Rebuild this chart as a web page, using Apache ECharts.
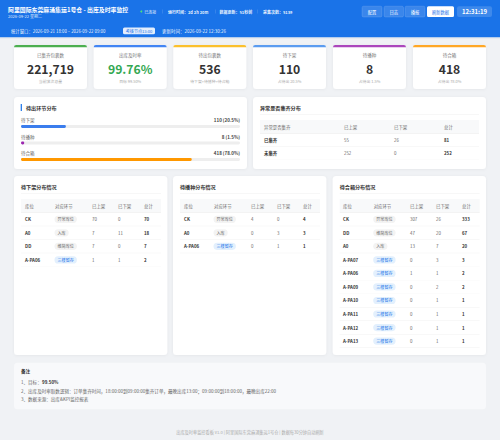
<!DOCTYPE html>
<html><head><meta charset="utf-8">
<style>html,body{margin:0;padding:0;background:#f0f2f5}#c{width:500px;height:440px}</style>
<script src="https://cdn.jsdelivr.net/npm/echarts@6/dist/echarts.min.js"></script>
</head><body><div id="c"></div>
<script>
const pageTitle = '阿里国际东莞麻涌集运1号仓 - 出库及时率监控';
const pageDate = '2026-09-22 星期二';
const statusItems = ['已连接', '运行时间：2d 2h 20m', '数据更新：51秒前', '采集次数：5139'];
const buttons = ['配置', '日志', '播报', '刷新数据'];
const clockText = '12:31:19';
const windowText = '统计窗口：2026-09-21 18:00 ~ 2026-09-22 09:00';
const nodeBadge = '考核节点13:00';
const updateText = '更新时间：2026-09-22 12:30:26';

const kpiTitles = ['已集齐包裹数', '出库及时率', '待出包裹数', '待下架', '待播种', '待合箱'];
const kpiValues = ['221,719', '99.76%', '536', '110', '8', '418'];
const kpiNotes = ['当前波次总量', '目标 99.50%', '待下架+待播种+待合箱', '占待出 20.5%', '占待出 1.5%', '占待出 78.0%'];

const stageNames = ['待下架', '待播种', '待合箱'];
const stageValues = [110, 8, 418];
const stageLabels = ['110 (20.5%)', '8 (1.5%)', '418 (78.0%)'];

const anomalyHeader = ['异常是否集齐', '已上架', '已下架', '总计'];
const anomalyRows = [['已集齐', 55, 26, 81], ['未集齐', 252, 0, 252]];

const tableHeader = ['库位', '对应环节', '已上架', '已下架', '总计'];
const tableTitles = ['待下架分布情况', '待播种分布情况', '待合箱分布情况'];
const tableA = [['CK', '异常库位', 70, 0, 70], ['A0', '入库', 7, 11, 18], ['DD', '维简库位', 7, 0, 7], ['A-PA06', '三楼暂存', 1, 1, 2]];
const tableB = [['CK', '异常库位', 4, 0, 4], ['A0', '入库', 0, 3, 3], ['A-PA06', '三楼暂存', 0, 1, 1]];
const tableC = [['CK', '异常库位', 307, 26, 333], ['DD', '维简库位', 47, 20, 67], ['A0', '入库', 13, 7, 20],
  ['A-PA07', '三楼暂存', 0, 3, 3], ['A-PA06', '三楼暂存', 1, 1, 2], ['A-PA09', '三楼暂存', 0, 2, 2],
  ['A-PA10', '三楼暂存', 0, 1, 1], ['A-PA11', '三楼暂存', 0, 1, 1], ['A-PA12', '三楼暂存', 0, 1, 1], ['A-PA13', '三楼暂存', 0, 1, 1]];

const noteTitle = '备注';
const noteLine1 = '1、目标：';
const noteTarget = '99.50%';
const noteLine2 = '2、出库及时率取数逻辑：订单集齐时间，18:00:00到09:00:00集齐订单，最晚出库13:00；09:00:00到18:00:00，最晚出库22:00';
const noteLine3 = '3、数据来源：出库&KPI监控报表';
const footerText = '出库及时率监控看板 v1.0 | 阿里国际东莞麻涌集运1号仓 | 数据每30分钟自动刷新';

const FONT = '"Noto Sans CJK SC","Noto Sans",sans-serif';
const TS = 10;
const g = [];
function rect(x, y, w, h, fill, r, extra) {
  g.push({type: 'rect', z: 1, silent: true, shape: {x, y, width: w, height: h, r: r || 0}, style: Object.assign({fill}, extra || {})});
}
function text(x, y, s, size, fill, opt) {
  opt = opt || {};
  g.push({type: 'text', z: 3, silent: true, x, y, scaleX: 1 / TS, scaleY: 1 / TS, style: {text: String(s), fontSize: size * TS, fontFamily: FONT,
    fontWeight: opt.bold ? 700 : 400, fill, textAlign: opt.align || 'left', textVerticalAlign: 'middle'}});
}
function panel(x, y, w, h) {
  rect(x, y, w, h, '#fff', 3.5, {shadowBlur: 3, shadowColor: 'rgba(0,0,0,0.05)', shadowOffsetY: 0.5});
}

// header
rect(0, 0, 500, 37.5, '#1a73e8');
rect(0, 37.5, 500, 1.3, '#e6e9ee');
text(8, 9, pageTitle, 5.9, '#fff', {bold: true});
text(8, 15.6, pageDate, 4.1, 'rgba(255,255,255,0.85)');
g.push({type: 'circle', z: 3, silent: true, shape: {cx: 141.3, cy: 11.5, r: 1}, style: {fill: '#4ade80'}});
[[144.3], [168], [219.5], [263]].forEach((p, i) => text(p[0], 11.6, statusItems[i], 4, 'rgba(255,255,255,0.92)', {bold: i > 0}));
[162, 215.5, 257].forEach(x => rect(x, 9.5, 0.35, 4, 'rgba(255,255,255,0.35)'));
[[362, 20], [384, 19.5], [405, 20], [427, 27]].forEach((b, i) => {
  const white = i === 3;
  rect(b[0], 6.2, b[1], 10.8, white ? '#fff' : 'rgba(255,255,255,0.14)', 1.5, white ? {} : {stroke: 'rgba(255,255,255,0.3)', lineWidth: 0.4});
  text(b[0] + b[1] / 2, 11.7, buttons[i], 4.3, white ? '#1a73e8' : '#fff', {align: 'center'});
});
rect(457, 6.2, 35, 10.8, 'rgba(255,255,255,0.16)', 2);
text(474.5, 11.7, clockText, 6, '#fff', {bold: true, align: 'center'});
text(11, 31, windowText, 4.35, 'rgba(255,255,255,0.95)');
rect(123, 27.6, 32, 6.6, 'rgba(255,255,255,0.88)', 1.5);
text(139, 31, nodeBadge, 4.1, '#1a73e8', {align: 'center'});
text(162, 31, updateText, 4.5, 'rgba(255,255,255,0.95)');

// KPI cards
const kpiX = [14, 93.7, 173.3, 253, 333, 413];
const kpiBar = ['#4caf50', '#4285f4', '#fbc02d', '#5b9cf0', '#ab47bc', '#ffa726'];
const kpiInk = ['#333', '#34a853', '#333', '#333', '#333', '#333'];
kpiX.forEach((x, i) => {
  panel(x, 45, 73, 44);
  g.push({type: 'rect', z: 2, silent: true, shape: {x, y: 45, width: 73, height: 2.2, r: [3, 3, 0, 0]}, style: {fill: kpiBar[i]}});
  text(x + 36.5, 55.3, kpiTitles[i], 4.5, '#777', {align: 'center'});
  text(x + 36.5, 68.6, kpiValues[i], 12.2, kpiInk[i], {bold: true, align: 'center'});
  text(x + 36.5, 80.6, kpiNotes[i], 3.9, '#aaa', {align: 'center'});
});

// stage panel
panel(14, 97, 233, 72);
rect(20.7, 104, 1.2, 7, '#1a73e8');
text(26, 107.7, '待出环节分布', 5.1, '#333', {bold: true});
[120.2, 136.7, 153.2].forEach((y, i) => {
  text(21, y, stageNames[i], 4.5, '#666');
  text(240, y, stageLabels[i], 4.5, '#444', {bold: true, align: 'right'});
});

// anomaly panel
panel(253, 97, 233, 72);
text(260, 107.7, '异常是否集齐分布', 5.1, '#333', {bold: true});
rect(260, 114.3, 219, 0.4, '#f0f0f0');
rect(260, 120, 219, 13, '#f8f9fa');
rect(260, 133, 219, 0.6, '#e8e8e8');
const anomalyX = [264, 344, 394, 444];
anomalyHeader.forEach((h, i) => text(anomalyX[i], 127, h, 4.4, '#666'));
anomalyRows.forEach((r, k) => {
  const y = 140 + k * 12.8;
  r.forEach((v, i) => text(anomalyX[i], y, v, 4.4, i === 0 || i === 3 ? '#333' : '#666', {bold: i === 0 || i === 3}));
  rect(260, y + 6.1, 219, 0.4, '#f2f2f2');
});

// distribution tables
const tagStyle = {
  '三楼暂存': ['#e3f0fd', '#1a73e8'], '入库': ['#f3f3f3', '#666'], '异常库位': ['#f3f3f3', '#666'], '维简库位': ['#f3f3f3', '#666']
};
function distTable(px, rows, title, colsRel) {
  panel(px, 176, 153.3, 179);
  text(px + 7, 186.4, title, 5.1, '#333', {bold: true});
  rect(px + 7, 193, 140, 0.4, '#f0f0f0');
  rect(px + 7, 199, 140, 13, '#f8f9fa');
  rect(px + 7, 212, 140, 0.6, '#e8e8e8');
  tableHeader.forEach((h, i) => text(px + colsRel[i], 205.8, h, 4.4, '#666'));
  rows.forEach((r, k) => {
    const y = 219.3 + k * 13.53;
    text(px + colsRel[0], y, r[0], 4.4, '#333', {bold: true});
    const st = tagStyle[r[1]];
    const w = r[1].length * 4.1 + 6;
    rect(px + colsRel[1] - 0.5, y - 3.6, w, 7.2, st[0], 3.6);
    text(px + colsRel[1] + w / 2 - 0.5, y, r[1], 4.1, st[1], {align: 'center'});
    text(px + colsRel[2], y, r[2], 4.4, '#666');
    text(px + colsRel[3], y, r[3], 4.4, '#666');
    text(px + colsRel[4], y, r[4], 4.4, '#333', {bold: true});
    rect(px + 7, y + 6.5, 140, 0.4, '#f2f2f2');
  });
}
distTable(14, tableA, tableTitles[0], [11, 41, 78, 104, 130]);
distTable(173, tableB, tableTitles[1], [11, 41, 78, 104, 130]);
distTable(332.7, tableC, tableTitles[2], [10.3, 41, 77.3, 103.3, 129.3]);

// notes
rect(14, 362.7, 472, 46.5, '#f8f9fb', 3.5);
text(21, 371.2, noteTitle, 4.6, '#333', {bold: true});
text(21, 382.2, noteLine1, 4.55, '#666');
text(42, 382.2, noteTarget, 4.5, '#333', {bold: true});
text(21, 390.7, noteLine2, 4.55, '#666');
text(21, 399, noteLine3, 4.55, '#666');
text(250, 432, footerText, 4.2, '#aaa', {align: 'center'});

const stageColors = ['#3b7ded', '#9c27b0', '#ff9800'];
const chart = echarts.init(document.getElementById('c'), null, {renderer: 'svg', width: 500, height: 440});
chart.setOption({
  animation: false,
  backgroundColor: '#f0f2f5',
  textStyle: {fontFamily: FONT},
  grid: {left: 21, width: 219, top: 118.25, height: 49.5, containLabel: false},
  xAxis: {type: 'value', min: 0, max: 536, show: false},
  yAxis: {type: 'category', data: stageNames, inverse: true, show: false},
  series: [{
    type: 'bar', z: 5, barWidth: 2.8, silent: true,
    showBackground: true, backgroundStyle: {color: '#eeeeee', borderRadius: 1.4},
    itemStyle: {borderRadius: 1.4},
    data: stageValues.map((v, i) => ({value: v, itemStyle: {color: stageColors[i]}}))
  }],
  graphic: {elements: g}
});
</script></body></html>
